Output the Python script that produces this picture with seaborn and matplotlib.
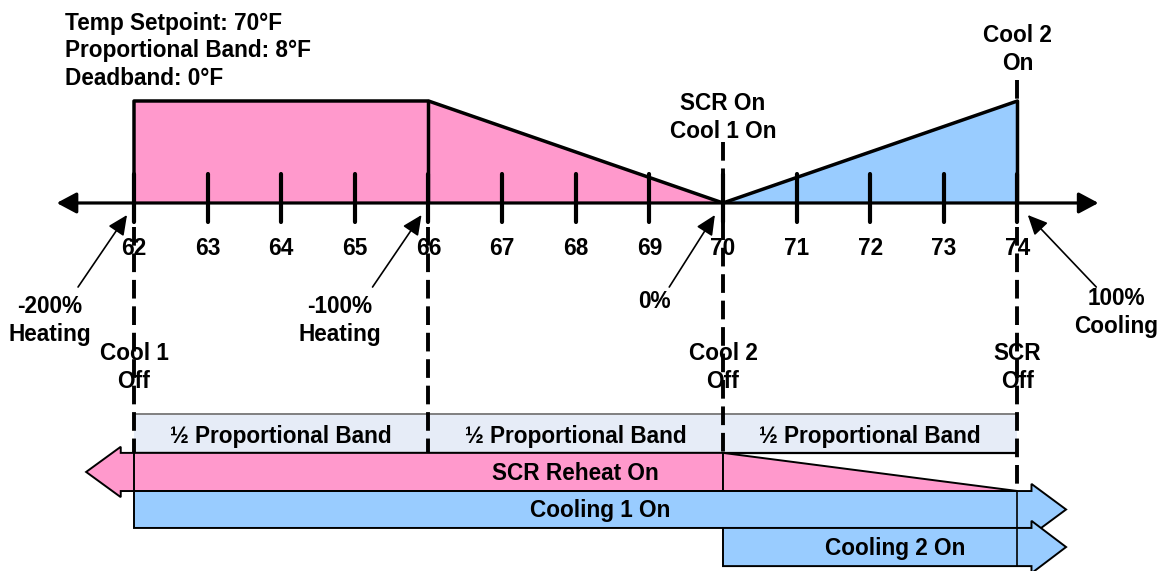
import matplotlib
matplotlib.use("Agg")
import matplotlib.pyplot as plt
from matplotlib.patches import Polygon, Rectangle
import pandas as pd
import seaborn as sns

# Controller settings
setpoint = 70
prop_band = 8
deadband = 0

# Temperature scale (°F)
temps = list(range(62, 75))
tick_labels = [str(t) for t in temps]

# SCR reheat output (%) along the scale
reheat_temp = [62, 66, 70]
reheat_pct = [100, 100, 0]

# Cooling output (%) along the scale
cool_temp = [70, 74]
cool_pct = [0, 100]

# Control signal reference points
signal_temp = [62, 66, 70, 74]
signal_labels = ["-200%\nHeating", "-100%\nHeating", "0%", "100%\nCooling"]

# Stage switching points
off_temp = [62, 70, 74]
off_labels = ["Cool 1\nOff", "Cool 2\nOff", "SCR\nOff"]
on_temp = [70, 74]
on_labels = ["SCR On\nCool 1 On", "Cool 2\nOn"]

# Half proportional-band segments
band_edges = [62, 66, 70, 74]
band_label = "½ Proportional Band"

# Stage bars
stage_names = ["SCR Reheat On", "Cooling 1 On", "Cooling 2 On"]
reheat_full_to = 70
reheat_off_at = 74
cool1_from = 62
cool2_from = 70

# ---- styling / layout -------------------------------------------------
PINK = "#FF99CC"
BLUE = "#99CCFF"
BAND = "#E6ECF7"
FS = 16.3
LINE_DY = 27.5            # line spacing of stacked labels (y units)

sns.set_theme(style="white")
plt.rcParams["font.family"] = ["Liberation Sans", "DejaVu Sans"]
plt.rcParams["font.weight"] = "bold"

fig = plt.figure(figsize=(11.64, 5.71), dpi=100)
ax = fig.add_axes([0, 0, 1, 1])

TXT = dict(fontsize=FS, fontweight="bold", color="black")


def stacked(x, y, text, z=2):
    for i, line in enumerate(text.split("\n")):
        ax.text(x, y - i * LINE_DY, line, ha="center", va="baseline", zorder=z, **TXT)


# output profiles
ax.fill_between(reheat_temp, 0, reheat_pct, color=PINK, lw=0, zorder=1)
ax.fill_between(cool_temp, 0, cool_pct, color=BLUE, lw=0, zorder=1)
heat_outline = pd.DataFrame({"temp": [reheat_temp[0]] + reheat_temp,
                             "pct": [0] + reheat_pct})
cool_outline = pd.DataFrame({"temp": cool_temp + [cool_temp[-1]],
                             "pct": cool_pct + [0]})
for df in (heat_outline, cool_outline):
    sns.lineplot(data=df, x="temp", y="pct", sort=False, estimator=None,
                 color="black", lw=2.5, ax=ax, zorder=3)
ax.plot([reheat_temp[1]] * 2, [0, reheat_pct[1]], color="black", lw=2.5, zorder=3)

ax.set_xlim(60.18, 75.99)
ax.set_ylim(-360.8, 199.0)
ax.axis("off")

# header
header = [f"Temp Setpoint: {setpoint}°F",
          f"Proportional Band: {prop_band}°F",
          f"Deadband: {deadband}°F"]
for i, line in enumerate(header):
    ax.text(61.06, 169.6 - i * 26.8, line, ha="left", va="baseline", **TXT)

# temperature axis with arrowheads
axis_style = dict(arrowstyle="-|>,head_length=0.6,head_width=0.32", color="black",
                  lw=2.3, shrinkA=0, shrinkB=0, mutation_scale=20)
ax.annotate("", xy=(60.95, 0), xytext=(68, 0), arrowprops=axis_style, zorder=3)
ax.annotate("", xy=(75.10, 0), xytext=(68, 0), arrowprops=axis_style, zorder=3)

# ticks and labels
for t, lab in zip(temps, tick_labels):
    ax.plot([t, t], [-18.6, 28.4], color="black", lw=3.0,
            solid_capstyle="round", zorder=4)
    ax.text(t, -51.0, lab, ha="center", va="baseline", zorder=2, **TXT)

# control signal callouts
sig_text_dx = [-1.14, -1.20, -0.93, 1.34]
sig_text_y = [-107.8, -107.8, -102.9, -100.0]
sig_tail_dx = [-0.76, -0.76, -0.73, 1.07]
sig_head_dx = [-0.095, -0.095, -0.11, 0.14]
thin_style = dict(arrowstyle="-|>,head_length=0.6,head_width=0.28", color="black",
                  lw=1.2, shrinkA=0, shrinkB=0, mutation_scale=20)
for t, lab, tdx, ty, adx, hdx in zip(signal_temp, signal_labels, sig_text_dx,
                                     sig_text_y, sig_tail_dx, sig_head_dx):
    stacked(t + tdx, ty, lab)
    ax.annotate("", xy=(t + hdx, -11.8), xytext=(t + adx, -82.4),
                arrowprops=thin_style, zorder=3)

# stage switching labels
for t, lab in zip(off_temp, off_labels):
    stacked(t, -153.9, lab)
on_y = [91.2, 157.9]
for t, lab, y in zip(on_temp, on_labels, on_y):
    stacked(t, y, lab)

# dashed guide lines
DASH = dict(color="black", lw=2.8, linestyle=(0, (4.8, 2.0)),
            dash_capstyle="butt", zorder=5)
BAND_TOP, BAND_BOT = -207.0, -245.0
ax.plot([62, 62], [-23.5, BAND_BOT], **DASH)
ax.plot([66, 66], [-23.5, BAND_BOT], **DASH)
ax.plot([70, 70], [59.8, BAND_BOT], **DASH)
ax.plot([74, 74], [120.6, 100], **DASH)
ax.plot([74, 74], [-23.5, -282.4], **DASH)

# half proportional band boxes
for a, b in zip(band_edges[:-1], band_edges[1:]):
    ax.add_patch(Rectangle((a, BAND_BOT), b - a, BAND_TOP - BAND_BOT,
                           facecolor=BAND, edgecolor="none", zorder=1))
    ax.text((a + b) / 2, -235.3, band_label, ha="center", va="baseline",
            zorder=2, **TXT)
ax.plot([band_edges[0], band_edges[-1]], [BAND_TOP, BAND_TOP], color="#808080",
        lw=1.4, zorder=2)
ax.plot([band_edges[0], band_edges[-1]], [BAND_BOT, BAND_BOT], color="black",
        lw=1.6, zorder=2)

# stage bars
R_TOP, R_BOT = BAND_BOT, -282.4
C1_TOP, C1_BOT = R_BOT, -318.6
C2_TOP, C2_BOT = C1_BOT, -356.0
L_SHAFT, L_TIP = 61.82, 61.35
R_SHAFT, R_TIP = 74.19, 74.66
HEAD = 7.0
EDGE = dict(edgecolor="black", lw=1.4, joinstyle="miter")


def right_arrow(x0, top, bot, color, z):
    mid = (top + bot) / 2
    pts = [(x0, top), (R_SHAFT, top), (R_SHAFT, top + HEAD), (R_TIP, mid),
           (R_SHAFT, bot - HEAD), (R_SHAFT, bot), (x0, bot)]
    ax.add_patch(Polygon(pts, closed=True, facecolor=color, zorder=z, **EDGE))


# SCR reheat (full on below the setpoint, fading out over the cooling half band)
mid = (R_TOP + R_BOT) / 2
reheat_pts = [(reheat_full_to, R_TOP), (L_SHAFT, R_TOP), (L_SHAFT, R_TOP + HEAD - 1),
              (L_TIP, mid), (L_SHAFT, R_BOT - HEAD + 1), (L_SHAFT, R_BOT),
              (reheat_full_to, R_BOT)]
ax.add_patch(Polygon(reheat_pts, closed=True, facecolor=PINK, zorder=3, **EDGE))
ax.add_patch(Polygon([(reheat_full_to, R_TOP), (reheat_off_at, R_BOT),
                      (reheat_full_to, R_BOT)], closed=True, facecolor=PINK,
                     zorder=3, **EDGE))
ax.plot([62, 62], [R_TOP, R_BOT], color="black", lw=1.4, zorder=3.5)

right_arrow(cool1_from, C1_TOP, C1_BOT, BLUE, 3.6)
right_arrow(cool2_from, C2_TOP, C2_BOT, BLUE, 3.7)
ax.plot([74, 74], [C1_TOP, C2_BOT], color="black", lw=1.2, zorder=3.8)

ax.text(68.0, -271.3, stage_names[0], ha="center", va="baseline", zorder=4, **TXT)
ax.text(68.33, -307.8, stage_names[1], ha="center", va="baseline", zorder=4, **TXT)
ax.text(72.34, -345.1, stage_names[2], ha="center", va="baseline", zorder=4, **TXT)

fig.savefig("out.png", dpi=100, facecolor="white")
